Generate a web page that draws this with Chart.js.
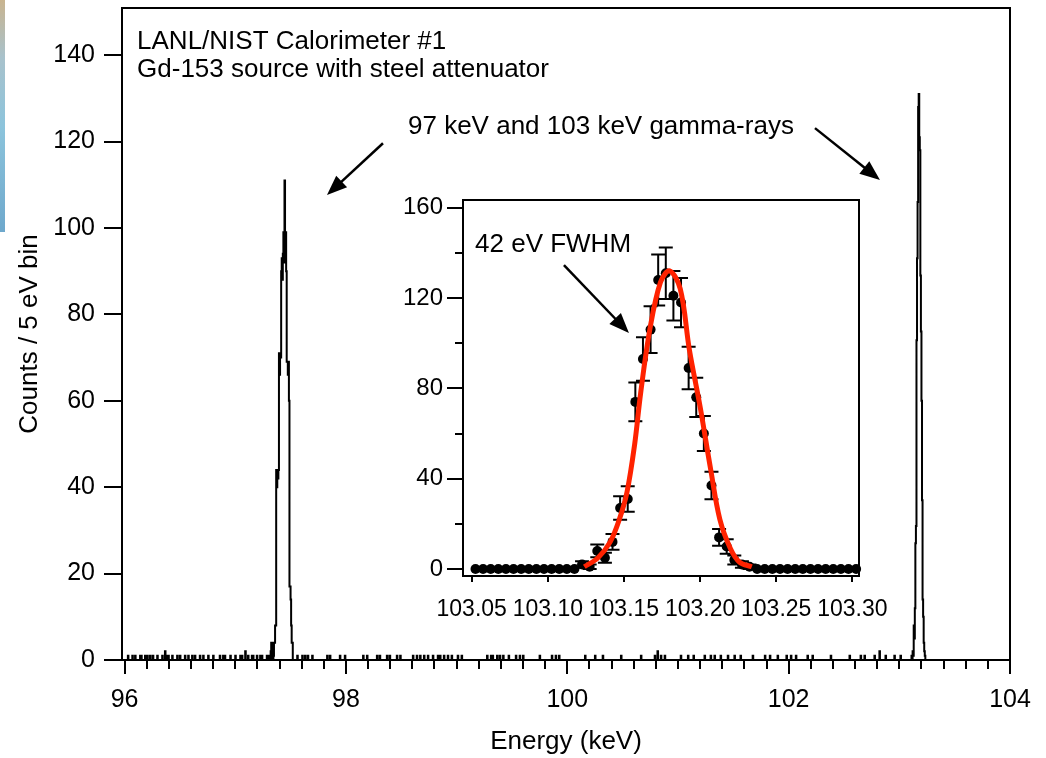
<!DOCTYPE html>
<html lang="en">
<head>
<meta charset="UTF-8" />
<title>Gd-153 spectrum</title>
<script src="https://cdn.jsdelivr.net/npm/chart.js@4.4.1/dist/chart.umd.min.js"></script>
<style>
    html, body { margin: 0; padding: 0; background: #fff; }
    #wrap { position: relative; width: 1046px; height: 758px; overflow: hidden; }
    #main { position: absolute; left: 0; top: 0; }
    #inset { position: absolute; left: 380px; top: 180px; }
    #stripe {
        position: absolute; left: 0; top: 0; width: 5px; height: 232px;
        background: linear-gradient(to bottom, #c9b48f 0%, #a8c2cc 25%, #8cc4dc 55%, #6ea8cc 100%);
    }
</style>
</head>
<body>
<div id="wrap">
    <canvas id="main" width="1046" height="758"></canvas>
    <canvas id="inset" width="520" height="450"></canvas>
    <div id="stripe"></div>
</div>

<script>
// ---- data (5 eV bins) ----
var binWidth = 0.005;
var xTickLabels = [96, 98, 100, 102, 104];
var yTickLabels = [0, 20, 40, 60, 80, 100, 120, 140];

// 97 keV line, counts per bin from 97.320 keV
var peak97Start = 97.320;
var peak97Counts = [2, 4, 0, 4, 0, 1,
    4, 4, 8, 8, 44, 40, 44, 42, 44, 71, 66, 71, 70, 90, 93, 88, 94, 99, 92, 111,
    94, 99, 90, 69, 69, 66, 69, 60, 17, 17, 14, 8, 4, 4];

// scattered background counts
var noiseEnergy = [96.030, 96.070, 96.095, 96.140, 96.150, 96.185, 96.205, 96.230, 96.255, 96.295,
    96.340, 96.365, 96.385, 96.395, 96.430, 96.475, 96.500, 96.545, 96.575, 96.610, 96.635, 96.680,
    96.710, 96.755, 96.800, 96.860, 96.890, 96.905, 96.955, 97.000, 97.045, 97.060, 97.090, 97.115,
    97.150, 97.160, 97.195, 97.225, 97.240, 97.285, 97.305,
    97.560, 97.605, 97.630, 97.655, 97.695, 97.830, 97.855, 97.945, 97.990, 98.155, 98.190, 98.280,
    98.305, 98.370, 98.395, 98.460, 98.490, 98.605, 98.640, 98.670, 98.705, 98.740, 98.785, 98.830,
    98.850, 98.885, 98.920, 98.955, 99.010, 99.045, 99.275, 99.310, 99.325, 99.365, 99.390, 99.420,
    99.470, 99.535, 99.570, 99.600, 99.750, 99.860, 99.895, 99.925, 100.160, 100.250, 100.320,
    100.485, 100.665, 100.790, 100.815, 100.845, 100.880, 101.025, 101.090, 101.140, 101.240,
    101.295, 101.330, 101.385, 101.450, 101.510, 101.565, 101.675, 101.785, 101.830, 101.900,
    101.980, 102.020, 102.065, 102.170, 102.215, 102.380, 102.550, 102.650, 102.685, 102.775,
    102.820, 102.875, 102.955, 103.010, 103.110];
var noiseCounts = [1, 1, 1, 1, 1, 1, 1, 1, 1, 1,
    1, 2, 1, 1, 1, 1, 1, 1, 1, 1, 1, 1,
    1, 1, 1, 1, 1, 1, 1, 1, 1, 1, 2, 1,
    1, 1, 1, 1, 1, 1, 1,
    1, 1, 1, 1, 1, 1, 1, 1, 1, 1, 1, 1,
    1, 1, 1, 1, 1, 1, 1, 1, 1, 1, 1, 1,
    1, 1, 1, 1, 1, 1, 1, 1, 1, 1, 1, 1,
    1, 1, 1, 1, 1, 1, 1, 1, 1, 1, 1,
    1, 1, 1, 2, 1, 1, 1, 1, 1, 1,
    1, 1, 1, 1, 1, 1, 1, 1, 1, 1,
    1, 1, 1, 1, 1, 1, 1, 1, 1, 1,
    2, 1, 1, 1, 1];

// inset: 103 keV line, bins from 103.050 keV (also the 103 keV line of the main plot)
var insetStart = 103.05;
var insetCounts = [0, 0, 0, 0, 0, 0, 0, 0, 0, 0, 0, 0, 0, 0,
    2, 1, 8, 5, 12, 27, 31, 74, 93, 106, 128, 131, 121, 118, 89, 76, 60, 37, 14, 10, 4, 2, 1,
    0, 0, 0, 0, 0, 0, 0, 0, 0, 0, 0, 0, 0, 0];
var insetErrors = [0, 0, 0, 0, 0, 0, 0, 0, 0, 0, 0, 0, 0, 0,
    1.4, 1, 2.8, 2.2, 3.5, 5.2, 5.6, 8.6, 9.6, 10.3, 11.3, 11.4, 11, 10.9, 9.4, 8.7, 7.7, 6.1, 3.7, 3.2, 2, 1.4, 1,
    0, 0, 0, 0, 0, 0, 0, 0, 0, 0, 0, 0, 0, 0];
var fitEnergy = [103.124, 103.133, 103.141, 103.147, 103.152, 103.157, 103.161, 103.167, 103.174,
    103.180, 103.187, 103.193, 103.200, 103.207, 103.213, 103.220, 103.226, 103.234];
var fitCounts = [1, 5, 12, 22, 34, 55, 78, 106, 127, 132, 124, 97, 72, 44, 22, 9, 3, 1];
var insetXTicks = [103.05, 103.10, 103.15, 103.20, 103.25, 103.30];
var insetYTicks = [0, 40, 80, 120, 160];

// ---- build histogram ----
var nBins = Math.round((104 - 96) / binWidth);
var counts = [];
for (var k = 0; k <= nBins; k++) counts.push(0);
function binOf(e) { return Math.round((e - 96) / binWidth); }
noiseEnergy.forEach(function (e, i) { counts[binOf(e)] = noiseCounts[i]; });
peak97Counts.forEach(function (c, i) { counts[binOf(peak97Start) + i] = c; });
insetCounts.forEach(function (c, i) { if (c > 0) counts[binOf(insetStart) + i] = c; });
var histPoints = counts.map(function (c, k) { return { x: 96 + k * binWidth, y: c }; });

var insetPoints = insetCounts.map(function (c, j) {
    return { x: insetStart + binWidth * (j + 0.5), y: c };
});
var fitPoints = fitEnergy.map(function (e, i) { return { x: e, y: fitCounts[i] }; });

var FONT = "'Liberation Sans', Arial, sans-serif";
Chart.defaults.font.family = FONT;
Chart.defaults.font.size = 25;
Chart.defaults.color = '#000';

function arrow(ctx, x1, y1, x2, y2, len, half) {
    var a = Math.atan2(y2 - y1, x2 - x1);
    var bx = x2 - len * Math.cos(a), by = y2 - len * Math.sin(a);
    ctx.beginPath();
    ctx.moveTo(x1, y1);
    ctx.lineTo(bx + 2 * Math.cos(a), by + 2 * Math.sin(a));
    ctx.stroke();
    ctx.beginPath();
    ctx.moveTo(x2, y2);
    ctx.lineTo(bx + half * Math.sin(a), by - half * Math.cos(a));
    ctx.lineTo(bx - half * Math.sin(a), by + half * Math.cos(a));
    ctx.closePath();
    ctx.fill();
}

// frame, ticks and notes of the main plot
var mainDecor = {
    id: 'mainDecor',
    afterDraw: function (chart) {
        var ctx = chart.ctx, a = chart.chartArea;
        var xs = chart.scales.x, ys = chart.scales.y;
        ctx.save();
        ctx.strokeStyle = '#000';
        ctx.fillStyle = '#000';
        ctx.lineWidth = 2;
        ctx.strokeRect(a.left, a.top, a.right - a.left, a.bottom - a.top);
        ctx.beginPath();
        yTickLabels.forEach(function (v) {
            var y = Math.round(ys.getPixelForValue(v));
            ctx.moveTo(a.left - 18, y); ctx.lineTo(a.left, y);
        });
        for (var i = 0; i <= 40; i++) {
            var x = Math.round(xs.getPixelForValue(96 + 0.2 * i));
            ctx.moveTo(x, a.bottom); ctx.lineTo(x, a.bottom + (i % 10 === 0 ? 14 : 9));
        }
        ctx.stroke();

        ctx.font = '26px ' + FONT;
        ctx.textBaseline = 'middle';
        ctx.textAlign = 'left';
        ctx.fillText('LANL/NIST Calorimeter #1', xs.getPixelForValue(96.113), ys.getPixelForValue(143.0));
        ctx.fillText('Gd-153 source with steel attenuator', xs.getPixelForValue(96.113), ys.getPixelForValue(136.5));
        ctx.fillText('97 keV and 103 keV gamma-rays', xs.getPixelForValue(98.561), ys.getPixelForValue(123.4));

        ctx.lineWidth = 2.5;
        arrow(ctx, xs.getPixelForValue(98.335), ys.getPixelForValue(119.6),
            xs.getPixelForValue(97.829), ys.getPixelForValue(107.6), 20, 8);
        arrow(ctx, xs.getPixelForValue(102.238), ys.getPixelForValue(123.1),
            xs.getPixelForValue(102.825), ys.getPixelForValue(111.1), 20, 8);
        ctx.restore();
    }
};

new Chart(document.getElementById('main'), {
    type: 'line',
    data: {
        datasets: [{
            data: histPoints,
            stepped: true,
            borderColor: '#000',
            borderWidth: 2,
            pointRadius: 0,
            clip: 4
        }]
    },
    options: {
        responsive: false,
        animation: false,
        layout: { padding: { top: 8, right: 36, left: 0, bottom: 0 } },
        plugins: { legend: { display: false }, tooltip: { enabled: false } },
        scales: {
            x: {
                type: 'linear',
                min: 95.977,
                max: 104,
                grid: { display: false, drawTicks: false },
                border: { display: false },
                afterBuildTicks: function (s) { s.ticks = xTickLabels.map(function (v) { return { value: v }; }); },
                afterFit: function (s) { s.height = 98; s.paddingLeft = 0; s.paddingRight = 0; },
                ticks: { padding: 25, maxRotation: 0, autoSkip: false, callback: function (v) { return String(v); } },
                title: { display: true, text: 'Energy (keV)', font: { size: 26 }, padding: { top: 0, bottom: 1 } }
            },
            y: {
                min: 0,
                max: 150.9,
                grid: { display: false, drawTicks: false },
                border: { display: false },
                afterBuildTicks: function (s) { s.ticks = yTickLabels.map(function (v) { return { value: v }; }); },
                afterFit: function (s) { s.width = 122; s.paddingTop = 0; s.paddingBottom = 0; },
                ticks: { padding: 27, autoSkip: false, callback: function (v) { return String(v); } },
                title: { display: true, text: 'Counts / 5 eV bin', font: { size: 26 }, padding: { top: 14, bottom: 0 } }
            }
        }
    },
    plugins: [mainDecor]
});

// inset: background, frame, ticks, error bars, note
var insetDecor = {
    id: 'insetDecor',
    beforeDraw: function (chart) {
        var ctx = chart.ctx, a = chart.chartArea;
        ctx.save();
        ctx.fillStyle = '#fff';
        ctx.fillRect(a.left, a.top, a.right - a.left, a.bottom - a.top);
        ctx.restore();
    },
    beforeDatasetsDraw: function (chart) {
        var ctx = chart.ctx;
        var xs = chart.scales.x, ys = chart.scales.y;
        ctx.save();
        ctx.strokeStyle = '#000';
        ctx.lineWidth = 2;
        ctx.beginPath();
        insetCounts.forEach(function (c, j) {
            if (c <= 0) return;
            var x = xs.getPixelForValue(insetPoints[j].x);
            var y1 = ys.getPixelForValue(c + insetErrors[j]);
            var y2 = ys.getPixelForValue(c - insetErrors[j]);
            ctx.moveTo(x, y1); ctx.lineTo(x, y2);
            ctx.moveTo(x - 7, y1); ctx.lineTo(x + 7, y1);
            ctx.moveTo(x - 7, y2); ctx.lineTo(x + 7, y2);
        });
        ctx.stroke();
        ctx.restore();
    },
    afterDraw: function (chart) {
        var ctx = chart.ctx, a = chart.chartArea;
        var xs = chart.scales.x, ys = chart.scales.y;
        ctx.save();
        ctx.strokeStyle = '#000';
        ctx.fillStyle = '#000';
        ctx.lineWidth = 2;
        ctx.strokeRect(a.left, a.top, a.right - a.left, a.bottom - a.top);
        ctx.beginPath();
        for (var v = 0; v <= 160; v += 20) {
            var y = Math.round(ys.getPixelForValue(v));
            ctx.moveTo(a.left - (v % 40 === 0 ? 16 : 8), y); ctx.lineTo(a.left, y);
        }
        insetXTicks.forEach(function (t) {
            var x = Math.round(xs.getPixelForValue(t));
            ctx.moveTo(x, a.bottom); ctx.lineTo(x, a.bottom + 6);
        });
        ctx.stroke();

        ctx.font = '26px ' + FONT;
        ctx.textBaseline = 'middle';
        ctx.textAlign = 'left';
        ctx.fillText('42 eV FWHM', xs.getPixelForValue(103.0522), ys.getPixelForValue(143.5));
        ctx.lineWidth = 2.5;
        arrow(ctx, xs.getPixelForValue(103.1106), ys.getPixelForValue(134.6),
            xs.getPixelForValue(103.1533), ys.getPixelForValue(104.5), 20, 8);
        ctx.restore();
    }
};

new Chart(document.getElementById('inset'), {
    type: 'line',
    data: {
        datasets: [{
            data: fitPoints,
            borderColor: '#ff2200',
            borderWidth: 5,
            pointRadius: 0,
            tension: 0.35,
            clip: 6
        }, {
            data: insetPoints,
            showLine: false,
            pointRadius: 5,
            pointBackgroundColor: '#000',
            pointBorderColor: '#000',
            pointBorderWidth: 0,
            clip: 6
        }]
    },
    options: {
        responsive: false,
        animation: false,
        layout: { padding: { top: 20, right: 41, left: 0, bottom: 0 } },
        plugins: { legend: { display: false }, tooltip: { enabled: false } },
        scales: {
            x: {
                type: 'linear',
                min: 103.0443,
                max: 103.3044,
                grid: { display: false, drawTicks: false },
                border: { display: false },
                afterBuildTicks: function (s) { s.ticks = insetXTicks.map(function (v) { return { value: v }; }); },
                afterFit: function (s) { s.height = 54; s.paddingLeft = 0; s.paddingRight = 0; },
                ticks: { padding: 20, maxRotation: 0, autoSkip: false, font: { size: 23 },
                    callback: function (v) { return v.toFixed(2); } }
            },
            y: {
                min: -3.1,
                max: 163.4,
                grid: { display: false, drawTicks: false },
                border: { display: false },
                afterBuildTicks: function (s) { s.ticks = insetYTicks.map(function (v) { return { value: v }; }); },
                afterFit: function (s) { s.width = 83; s.paddingTop = 0; s.paddingBottom = 0; },
                ticks: { padding: 20, autoSkip: false, font: { size: 24 },
                    callback: function (v) { return String(v); } }
            }
        }
    },
    plugins: [insetDecor]
});
</script>
</body>
</html>
